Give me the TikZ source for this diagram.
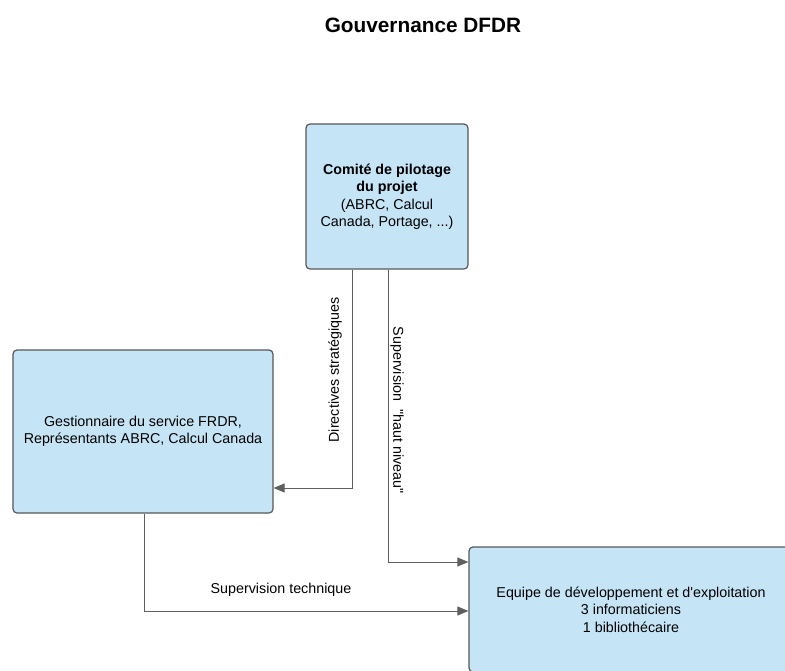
\documentclass[tikz,border=0pt]{standalone}
\usepackage{fontspec}
\setmainfont{Liberation Sans}[Ligatures=TeXOff]
\usetikzlibrary{arrows.meta}
\definecolor{boxfill}{RGB}{197,228,246}
\definecolor{boxline}{RGB}{88,88,88}
\definecolor{wireline}{RGB}{95,95,95}
\begin{document}
\begin{tikzpicture}[x=1pt,y=-1pt,
	box/.style={rectangle, rounded corners=4pt, draw=boxline, line width=1.2pt, fill=boxfill, align=center, inner sep=0pt, font=\fontsize{14.3}{17.5}\selectfont},
	wire/.style={-{Triangle[length=11pt,width=9pt]}, draw=wireline, line width=0.9pt},
	lbl/.style={font=\fontsize{14.3}{17.5}\selectfont, inner sep=0pt}]
	\useasboundingbox (0,0) rectangle (785,670);
	\clip (0,0) rectangle (785,670);

	\node 	(title)		at	(423,25) 	[font=\fontsize{20.8}{24}\bfseries\selectfont]{Gouvernance DFDR};

	% boites
	\node 	(cpil)		at	(387,196.5) 	[box, minimum width=162pt, minimum height=145pt]{\textbf{Comité de pilotage}\\\textbf{du projet}\\(ABRC, Calcul\\Canada, Portage, ...)};

	\node 	(gest)		at	(143,431.5) 	[box, minimum width=260pt, minimum height=163pt]{Gestionnaire du service FRDR,\\Représentants ABRC, Calcul Canada};

	\node 	(equipe)	at	(631,609.5) 	[box, minimum width=324pt, minimum height=125pt]{Equipe de développement et d'exploitation\\3 informaticiens\\1 bibliothécaire};

	% liens
	\draw[wire] ([xshift=-35pt]cpil.south) |- ([yshift=-56.5pt]gest.east);
	\draw[wire] ([xshift=1pt]cpil.south) |- ([yshift=47.5pt]equipe.west);
	\draw[wire] ([xshift=1pt]gest.south) |- ([yshift=-1.5pt]equipe.west);

	\node 	(dirlbl)	at	(335,370) 	[lbl, rotate=90]{Directives stratégiques};
	\node 	(suplbl)	at	(397,410) 	[lbl, rotate=-90]{Supervision \ "haut niveau"};
	\node 	(teclbl)	at	(281,590) 	[lbl]{Supervision technique};

\end{tikzpicture}
\end{document}
